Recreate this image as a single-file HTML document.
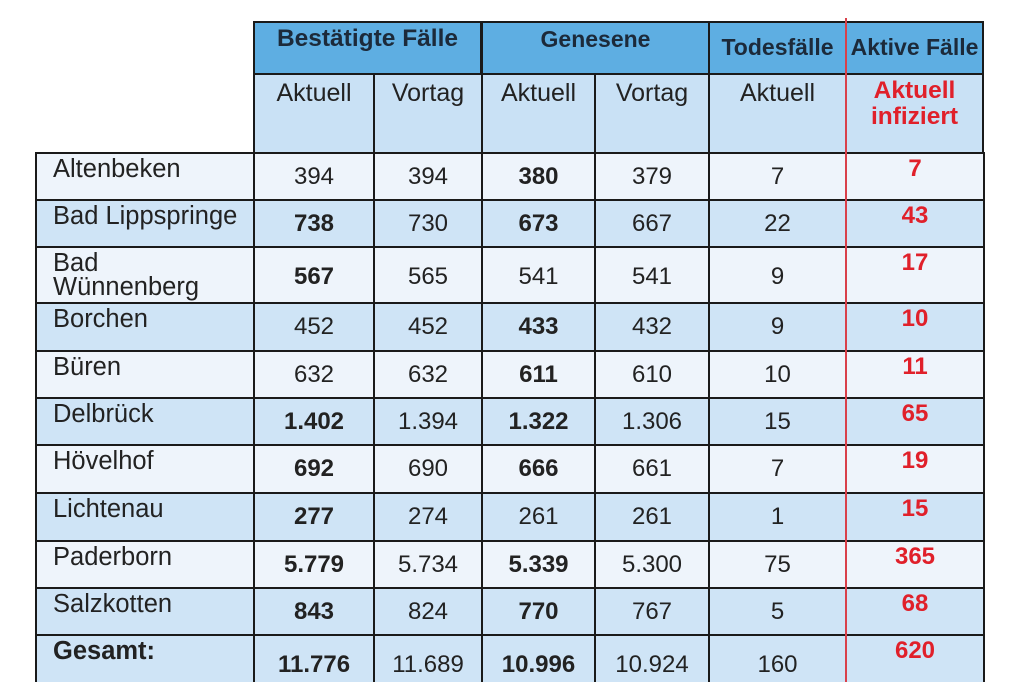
<!DOCTYPE html><html><head><meta charset="utf-8"><style>
html,body{margin:0;width:1024px;height:682px;overflow:hidden}
body{background:#fff;position:relative;font-family:"Liberation Sans",sans-serif;color:#222}
.c{position:absolute;box-sizing:border-box;border:2px solid #1a1a1a;font-size:24px}
.n{text-align:center;line-height:26px}
.r{color:#e0202a;font-weight:bold;padding-top:2px!important;font-size:24px}
.nm{padding-left:16px;line-height:24px;padding-top:3px;font-size:25.5px}
.h1{background:#5eaee2;font-weight:bold;font-size:23px;color:#1c2a3a;text-align:center}
.h2{background:#c9e1f5;text-align:center;font-size:25px;padding-top:4px}
</style></head><body>
<div class="c h1" style="left:253px;top:21px;width:229px;height:54px;line-height:32px;font-size:24.5px">Bestätigte Fälle</div>
<div class="c h1" style="left:481px;top:21px;width:229px;height:54px;line-height:32px">Genesene</div>
<div class="c h1" style="left:708px;top:21px;width:139px;height:54px;line-height:48px">Todesfälle</div>
<div class="c h1" style="left:845px;top:21px;width:139px;height:54px;line-height:48px">Aktive Fälle</div>
<div class="c h2" style="left:253px;top:73px;width:122px;height:81px">Aktuell</div>
<div class="c h2" style="left:373px;top:73px;width:110px;height:81px">Vortag</div>
<div class="c h2" style="left:481px;top:73px;width:115px;height:81px">Aktuell</div>
<div class="c h2" style="left:594px;top:73px;width:116px;height:81px">Vortag</div>
<div class="c h2" style="left:708px;top:73px;width:139px;height:81px">Aktuell</div>
<div class="c h2" style="left:845px;top:73px;width:139px;height:81px;color:#e0202a;font-weight:bold;line-height:26px;padding-top:3px;font-size:24.5px">Aktuell<br>infiziert</div>
<div id="rows"></div>
<div style="position:absolute;left:845px;top:18px;width:2px;height:664px;background:#d9404a"></div>
<script>
const d=[["Altenbeken","394","394","<b>380</b>","379","7","7",0],
["Bad Lippspringe","<b>738</b>","730","<b>673</b>","667","22","43",1],
["Bad<br>Wünnenberg","<b>567</b>","565","541","541","9","17",0],
["Borchen","452","452","<b>433</b>","432","9","10",1],
["Büren","632","632","<b>611</b>","610","10","11",0],
["Delbrück","<b>1.402</b>","1.394","<b>1.322</b>","1.306","15","65",1],
["Hövelhof","<b>692</b>","690","<b>666</b>","661","7","19",0],
["Lichtenau","<b>277</b>","274","261","261","1","15",1],
["Paderborn","<b>5.779</b>","5.734","<b>5.339</b>","5.300","75","365",0],
["Salzkotten","<b>843</b>","824","<b>770</b>","767","5","68",1],
["<b>Gesamt:</b>","<b>11.776</b>","11.689","<b>10.996</b>","10.924","160","620",1]];
const tops=[152,199,246,302,350,397,444,492,540,587,634,700];
const xs=[35,253,373,481,594,708,845,983];
let h="";
d.forEach((r,i)=>{const t=tops[i],hh=tops[i+1]-t+2,bg=r[7]?"#cfe4f6":"#eef4fb";
for(let j=0;j<7;j++){const cls=j==0?"nm":(j==6?"n r":"n");
h+=`<div class="c ${cls}" style="left:${xs[j]}px;top:${t}px;width:${xs[j+1]-xs[j]+2}px;height:${hh}px;background:${bg};${j>0&&j<6?'padding-top:'+(hh>52?16:10)+'px':''}">${r[j]}</div>`;}});
document.getElementById("rows").innerHTML=h;
</script>
</body></html>
